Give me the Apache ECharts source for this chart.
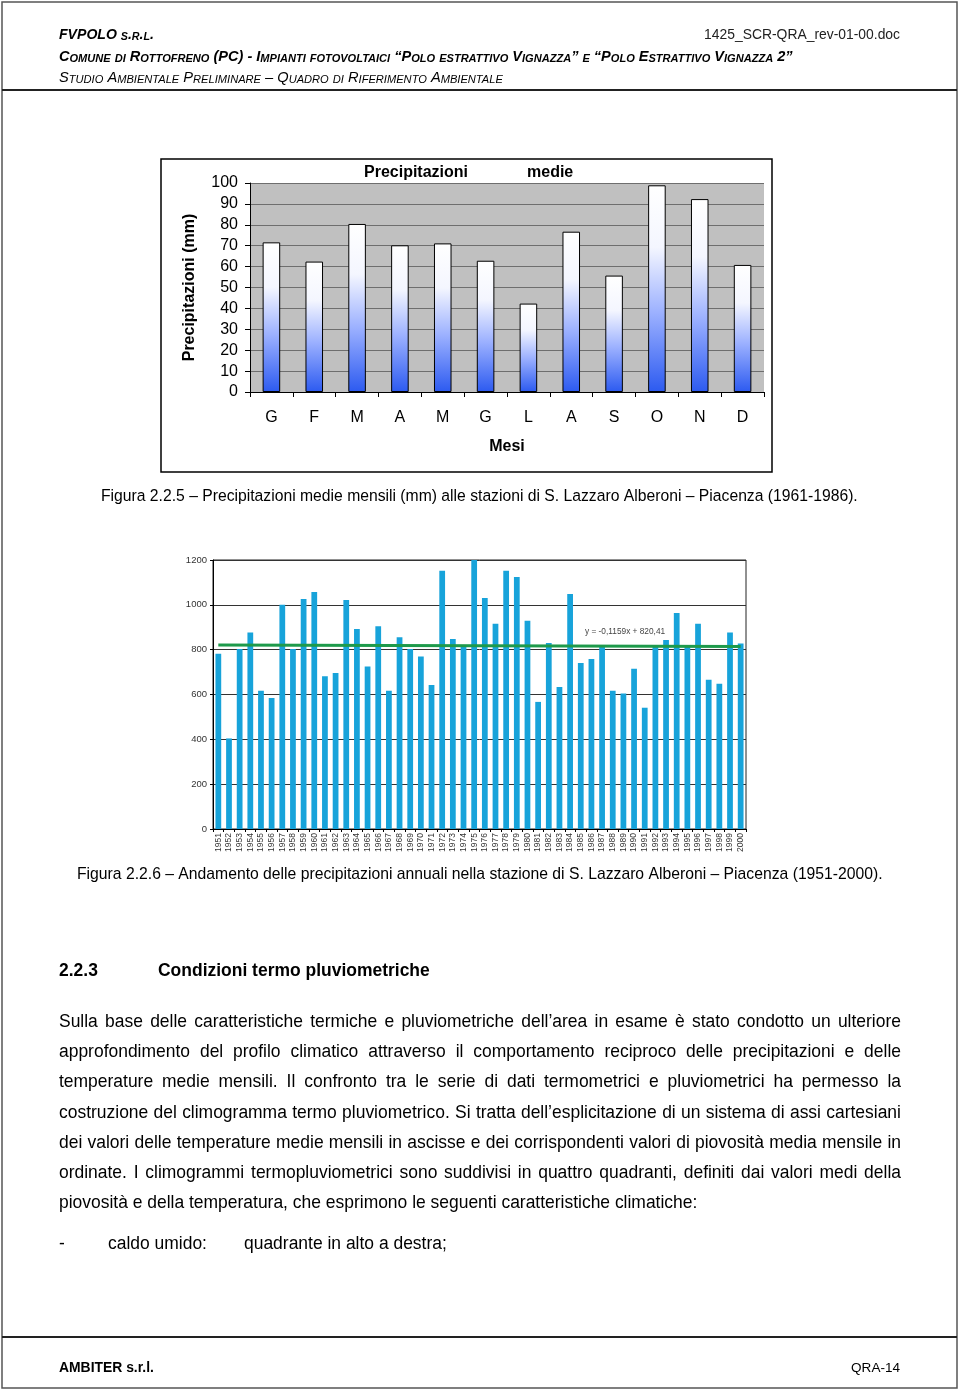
<!DOCTYPE html>
<html><head><meta charset="utf-8">
<script src="https://cdn.jsdelivr.net/npm/echarts@6/dist/echarts.min.js"></script>
<style>html,body{margin:0;padding:0;background:#fff}#c{width:960px;height:1390px}</style>
</head><body><div id="c"></div>
<script>
// ---------- DATA ----------
const months = ['G','F','M','A','M','G','L','A','S','O','N','D'];
const monthlyRain = [71.6,62.4,80.4,70.2,71.1,62.8,42.3,76.7,55.7,98.9,92.3,60.8];
const years = ['1951','1952','1953','1954','1955','1956','1957','1958','1959','1960',
  '1961','1962','1963','1964','1965','1966','1967','1968','1969','1970',
  '1971','1972','1973','1974','1975','1976','1977','1978','1979','1980',
  '1981','1982','1983','1984','1985','1986','1987','1988','1989','1990',
  '1991','1992','1993','1994','1995','1996','1997','1998','1999','2000'];
const annualRain = [782,404,803,877,617,584,1000,803,1026,1057,
  681,696,1022,892,725,904,617,855,803,770,
  642,1152,848,815,1200,1030,916,1152,1124,929,
  567,830,633,1048,740,758,818,617,604,715,
  541,815,843,964,818,916,666,648,877,827];
const trendYears = ['1951','2000'];
const trendValues = [820.3, 814.6];
const trendLabel = 'y = -0,1159x + 820,41';

const headerLeft = 'FVPOLO s.r.l.';
const headerDoc = '1425_SCR-QRA_rev-01-00.doc';
const headerLine2 = 'Comune di Rottofreno (PC) - Impianti fotovoltaici “Polo estrattivo Vignazza” e “Polo Estrattivo Vignazza 2”';
const headerLine3 = 'Studio Ambientale Preliminare – Quadro di Riferimento Ambientale';
const caption1 = 'Figura 2.2.5 – Precipitazioni medie mensili (mm) alle stazioni di S. Lazzaro Alberoni – Piacenza (1961-1986).';
const caption2 = 'Figura 2.2.6 – Andamento delle precipitazioni annuali nella stazione di S. Lazzaro Alberoni – Piacenza (1951-2000).';
const headingNum = '2.2.3';
const headingText = 'Condizioni termo pluviometriche';
const paraLines = [
  'Sulla base delle caratteristiche termiche e pluviometriche dell’area in esame è stato condotto un ulteriore',
  'approfondimento del profilo climatico attraverso il comportamento reciproco delle precipitazioni e delle',
  'temperature medie mensili. Il confronto tra le serie di dati termometrici e pluviometrici ha permesso la',
  'costruzione del climogramma termo pluviometrico. Si tratta dell’esplicitazione di un sistema di assi cartesiani',
  'dei valori delle temperature medie mensili in ascisse e dei corrispondenti valori di piovosità media mensile in',
  'ordinate. I climogrammi termopluviometrici sono suddivisi in quattro quadranti, definiti dai valori medi della',
  'piovosità e della temperatura, che esprimono le seguenti caratteristiche climatiche:'
];
const listItem = ['-', 'caldo umido:', 'quadrante in alto a destra;'];
const footerLeft = 'AMBITER s.r.l.';
const footerRight = 'QRA-14';

// ---------- HELPERS ----------
const FF = '"Liberation Sans", Arial, Helvetica, sans-serif';
const ctx = document.createElement('canvas').getContext('2d');
function mw(text, size, weight, style) {
  ctx.font = (style || 'normal') + ' ' + (weight || 'normal') + ' ' + size + 'px ' + FF;
  return ctx.measureText(text).width;
}
function fit(text, target, weight, style) {
  return 20 * target / mw(text, 20, weight, style);
}
function T(text, x, y, size, o) {
  o = o || {};
  return { type: 'text', x: x, y: y, silent: true, z: 10,
    style: { text: text, fill: o.color || '#000',
      font: (o.style || 'normal') + ' ' + (o.weight || 'normal') + ' ' + size.toFixed(2) + 'px ' + FF,
      textAlign: o.align || 'left', textVerticalAlign: 'middle' } };
}
function smallCaps(str, x, y, target, weight, style) {
  const runs = [];
  for (const ch of str) {
    const low = ch !== ch.toUpperCase();
    const last = runs[runs.length - 1];
    if (last && last.low === low) last.t += ch.toUpperCase();
    else runs.push({ low: low, t: ch.toUpperCase() });
  }
  const R = 0.76;
  const tot = runs.reduce((s, r) => s + mw(r.t, r.low ? 20 * R : 20, weight, style), 0);
  const U = 20 * target / tot, L = U * R;
  const text = runs.map(r => '{' + (r.low ? 'l' : 'u') + '|' + r.t + '}').join('');
  const mk = (sz) => ({ fontSize: sz, fontFamily: FF, fontWeight: weight, fontStyle: style, fill: '#000', verticalAlign: 'bottom', lineHeight: U * 1.15 });
  return { type: 'text', x: x, y: y, silent: true, z: 10,
    style: { text: text, rich: { u: mk(U), l: mk(L) }, fontSize: U, fontFamily: FF,
      textVerticalAlign: 'middle', fill: '#000' } };
}

// ---------- DOCUMENT GRAPHICS ----------
const els = [];
els.push({ type: 'rect', shape: { x: 2, y: 2, width: 955, height: 1386 }, style: { fill: 'none', stroke: '#555', lineWidth: 1.5 }, silent: true });
els.push({ type: 'line', shape: { x1: 2, y1: 90, x2: 957, y2: 90 }, style: { stroke: '#222', lineWidth: 2 }, silent: true });
els.push({ type: 'line', shape: { x1: 2, y1: 1337, x2: 957, y2: 1337 }, style: { stroke: '#222', lineWidth: 2 }, silent: true });

els.push(smallCaps(headerLeft, 59, 34, 95, 'bold', 'italic'));
els.push(T(headerDoc, 900, 35, fit(headerDoc, 196), { align: 'right', color: '#222' }));
els.push(smallCaps(headerLine2, 59, 56, 734, 'bold', 'italic'));
els.push(smallCaps(headerLine3, 59, 77, 444, 'normal', 'italic'));

// chart 1 frame
els.push({ type: 'rect', shape: { x: 161, y: 159, width: 611, height: 313 }, style: { fill: 'none', stroke: '#000', lineWidth: 1.5 }, silent: true });

els.push(T(caption1, 101, 497, fit(caption1, 757)));
els.push(T(caption2, 77, 875, fit(caption2, 806)));
els.push(T(trendLabel, 585, 632, 8.3, { color: '#444' }));

const hfs = fit(headingText, 272, 'bold');
els.push(T(headingNum, 59, 971, hfs, { weight: 'bold' }));
els.push(T(headingText, 158, 971, hfs, { weight: 'bold' }));

const paraY = [1022, 1052, 1082, 1113, 1143, 1173, 1203];
const pfs = fit(paraLines[paraLines.length - 1], 639);
paraLines.forEach((line, i) => {
  const y = paraY[i];
  if (i === paraLines.length - 1) { els.push(T(line, 59, y, pfs)); return; }
  const words = line.split(' ');
  const ws = words.map(t => mw(t, pfs));
  const sum = ws.reduce((a, b) => a + b, 0);
  const gap = (901 - 59 - sum) / (words.length - 1);
  let x = 59;
  words.forEach((t, k) => { els.push(T(t, x, y, pfs)); x += ws[k] + gap; });
});
els.push(T(listItem[0], 59, 1244, pfs));
els.push(T(listItem[1], 108, 1244, pfs));
els.push(T(listItem[2], 244, 1244, pfs));

els.push(T(footerLeft, 59, 1368, fit(footerLeft, 95, 'bold'), { weight: 'bold' }));
els.push(T(footerRight, 900, 1368, fit(footerRight, 49), { align: 'right' }));

// ---------- CHART ----------
const chart = echarts.init(document.getElementById('c'), null, { renderer: 'canvas' });
const barGrad = new echarts.graphic.LinearGradient(0, 0, 0, 1, [
  { offset: 0, color: '#ffffff' },
  { offset: 0.3, color: '#f4f6ff' },
  { offset: 0.62, color: '#9bb0ff' },
  { offset: 1, color: '#2c5af0' }
]);
const txt = (sz, extra) => Object.assign({ fontSize: sz, fontFamily: FF, color: '#000' }, extra || {});

chart.setOption({
  animation: false,
  backgroundColor: '#fff',
  textStyle: { fontFamily: FF },
  title: [
    { text: 'Precipitazioni', left: 364, top: 165, padding: 0, textStyle: txt(16, { fontWeight: 'bold' }) },
    { text: 'medie', left: 527, top: 165, padding: 0, textStyle: txt(16, { fontWeight: 'bold' }) }
  ],
  grid: [
    { left: 250, top: 183, width: 514, height: 209, show: true, backgroundColor: '#C0C0C0', borderWidth: 0 },
    { left: 213, top: 560, width: 533, height: 269, show: true, backgroundColor: '#fff', borderColor: '#222', borderWidth: 1 }
  ],
  xAxis: [
    { type: 'category', gridIndex: 0, data: months,
      axisLine: { lineStyle: { color: '#000', width: 1 } },
      axisTick: { show: true, length: 5, lineStyle: { color: '#000' } },
      axisLabel: txt(16, { margin: 18 }),
      name: 'Mesi', nameLocation: 'middle', nameGap: 47, nameTextStyle: txt(16, { fontWeight: 'bold' }) },
    { type: 'category', gridIndex: 1, data: years,
      axisLine: { lineStyle: { color: '#000', width: 1 } },
      axisTick: { show: true, length: 3, interval: 0, lineStyle: { color: '#000' } },
      axisLabel: txt(8.5, { rotate: 90, interval: 0, margin: 4, color: '#333' }) }
  ],
  yAxis: [
    { type: 'value', gridIndex: 0, min: 0, max: 100, interval: 10,
      axisLine: { show: true, lineStyle: { color: '#000' } },
      axisTick: { show: true, length: 5, lineStyle: { color: '#000' } },
      axisLabel: txt(16, { margin: 12 }),
      splitLine: { lineStyle: { color: '#6e6e6e', width: 1 } },
      name: 'Precipitazioni (mm)', nameLocation: 'middle', nameRotate: 90, nameGap: 52,
      nameTextStyle: txt(16, { fontWeight: 'bold' }) },
    { type: 'value', gridIndex: 1, min: 0, max: 1200, interval: 200,
      axisLine: { show: true, lineStyle: { color: '#000' } },
      axisTick: { show: true, length: 3, lineStyle: { color: '#000' } },
      axisLabel: txt(9.5, { margin: 6, color: '#333', formatter: v => String(v) }),
      splitLine: { lineStyle: { color: '#333', width: 1 } } }
  ],
  series: [
    { type: 'bar', xAxisIndex: 0, yAxisIndex: 0, data: monthlyRain, barWidth: '41%',
      itemStyle: { color: barGrad, borderColor: '#000', borderWidth: 1 } },
    { type: 'bar', xAxisIndex: 1, yAxisIndex: 1, data: annualRain, barWidth: '54%',
      itemStyle: { color: '#17A3DA' } },
    { type: 'line', xAxisIndex: 1, yAxisIndex: 1,
      data: trendYears.map((y, i) => [y, trendValues[i]]),
      symbol: 'none', lineStyle: { color: '#1E9A4B', width: 3 }, z: 5 }
  ],
  graphic: { elements: els }
});
</script>
</body></html>
